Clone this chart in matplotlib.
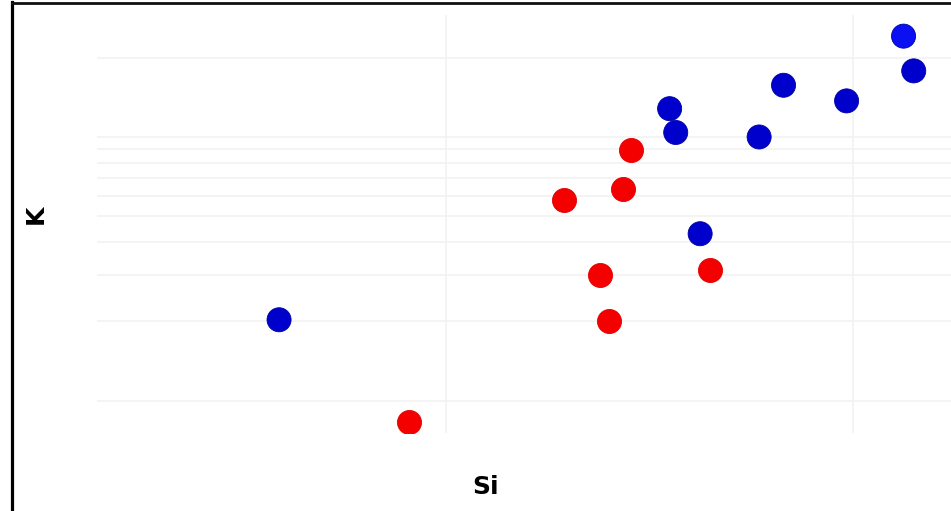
import matplotlib
matplotlib.use('Agg')
import matplotlib.pyplot as plt
from matplotlib.lines import Line2D
from matplotlib.ticker import FixedLocator, NullFormatter

# Si (x, linear) and K (y, log) values
blue_si = [45.9, 55.5, 55.65, 56.25, 57.7, 58.3, 59.85, 61.25, 61.5]
blue_k = [2.03, 12.8, 10.4, 4.3, 10.0, 15.7, 13.7, 24.1, 17.8]
blue_colors = ['#0000CC', '#0000CC', '#0000CC', '#0000CC', '#0000CC',
               '#0000CC', '#0000CC', '#0A10F2', '#0000CC']

red_si = [49.1, 52.9, 53.8, 54.0, 54.35, 54.55, 56.5]
red_k = [0.83, 5.75, 3.0, 2.0, 6.35, 8.9, 3.12]

si_grid = [50, 60]
k_grid = [1, 2, 3, 4, 5, 6, 7, 8, 9, 10, 20]

W, H = 951, 511
fig = plt.figure(figsize=(W / 100, H / 100), dpi=100)
fig.patch.set_facecolor('white')

# plot area in pixels: left 97, top 15, bottom 433, runs to right edge
ax = fig.add_axes([97 / W, (H - 433) / H, (W - 97) / W + 0.01, (433 - 15) / H])
ax.set_yscale('log')
ax.set_xlim(41.425, 62.65)
ax.set_ylim(0.756, 28.98)

ax.scatter(red_si, red_k, s=300, color='#F50000', edgecolors='#E00000',
           linewidths=0.6, zorder=3)
ax.scatter(blue_si, blue_k, s=300, color=blue_colors, edgecolors='#0000A8',
           linewidths=0.6, zorder=3)

# light grid, no ticks or labels
ax.xaxis.set_major_locator(FixedLocator(si_grid))
ax.yaxis.set_major_locator(FixedLocator(k_grid))
ax.yaxis.set_minor_locator(FixedLocator([]))
ax.xaxis.set_major_formatter(NullFormatter())
ax.yaxis.set_major_formatter(NullFormatter())
ax.yaxis.set_minor_formatter(NullFormatter())
ax.tick_params(which='both', length=0)
ax.grid(True, color='#F1F1F1', linewidth=1.1, zorder=0)
ax.set_axisbelow(True)
for s in ax.spines.values():
    s.set_visible(False)

fig.text(486 / W, 1 - 487 / H, 'Si', fontsize=18, fontweight='bold',
         ha='center', va='center')
fig.text(36 / W, 1 - 214 / H, 'K', fontsize=18, fontweight='bold',
         rotation=90, ha='center', va='center')

# panel frame (left and top border)
fig.add_artist(Line2D([11.5 / W, 11.5 / W], [0, 1 - 2 / H], color='black',
                      linewidth=2.3, transform=fig.transFigure))
fig.add_artist(Line2D([11.5 / W, 1], [1 - 3 / H, 1 - 3 / H], color='#111111',
                      linewidth=2.0, transform=fig.transFigure))

fig.savefig('out.png', dpi=100)
